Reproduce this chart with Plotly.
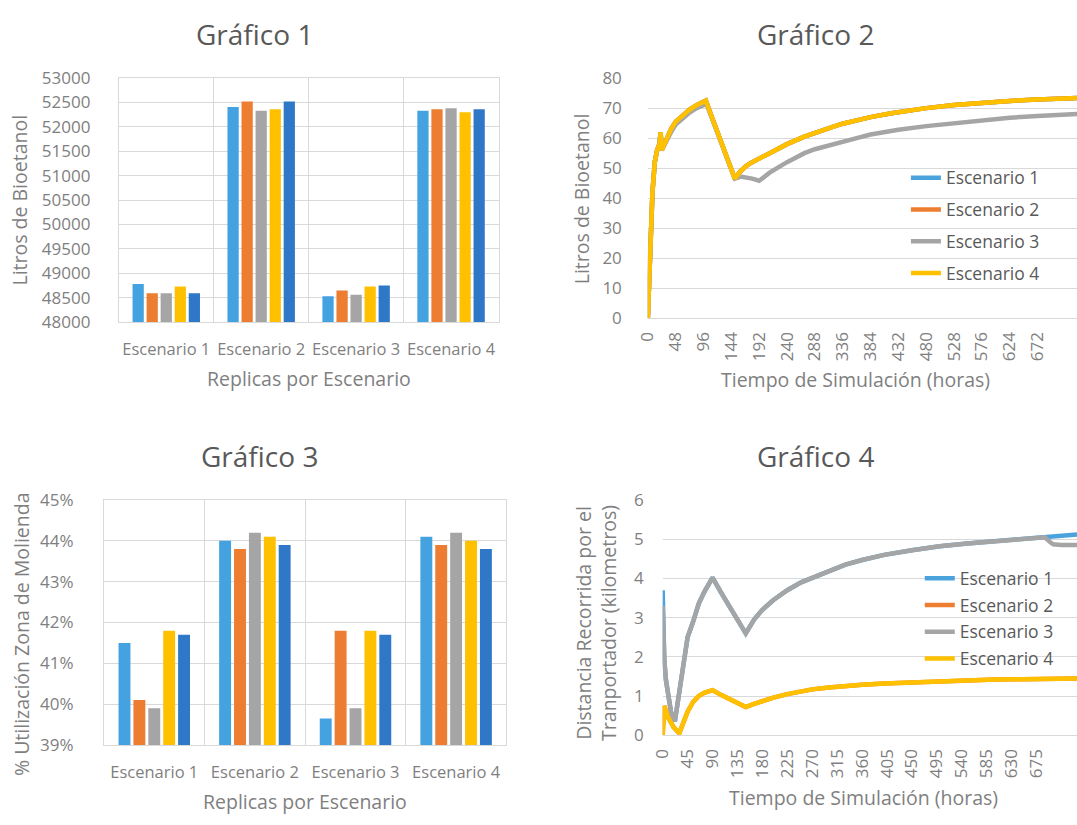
import plotly.graph_objects as go

# ---------------- data ----------------
escenarios = ["Escenario 1", "Escenario 2", "Escenario 3", "Escenario 4"]
series_names = ["Escenario 1", "Escenario 2", "Escenario 3", "Escenario 4"]

# Gráfico 1: litros de bioetanol por réplica (5 réplicas por escenario)
litros_rep1 = [48780, 52410, 48530, 52330]
litros_rep2 = [48590, 52520, 48650, 52360]
litros_rep3 = [48590, 52330, 48560, 52380]
litros_rep4 = [48730, 52360, 48730, 52300]
litros_rep5 = [48590, 52520, 48750, 52360]

# Gráfico 3: % utilización zona de molienda por réplica
util_rep1 = [41.5, 44.0, 39.65, 44.1]
util_rep2 = [40.1, 43.8, 41.8, 43.9]
util_rep3 = [39.9, 44.2, 39.9, 44.2]
util_rep4 = [41.8, 44.1, 41.8, 44.0]
util_rep5 = [41.7, 43.9, 41.7, 43.8]

# Gráfico 2: litros de bioetanol en el tiempo
horas_g2 = [0, 4, 8, 12, 16, 20, 22, 24, 28, 32, 40, 48, 60, 72, 84, 96, 100,
            110, 120, 130, 140, 150, 160, 170, 180, 192, 200, 210, 240, 270, 288,
            320, 336, 360, 384, 420, 432, 480, 528, 576, 624, 672, 720, 744]
bio_esc1 = [0, 20, 42, 52, 56, 58, 62, 56, 58, 59, 63, 65.5, 67.5, 69.5, 71, 72, 72.5,
            67.2, 62, 56.7, 51.4, 46.5, 49, 50.8, 52, 53, 54, 55, 58, 60.5, 61.8,
            63.8, 64.8, 66, 67, 68.3, 68.7, 70, 71, 71.8, 72.4, 72.9, 73.3, 73.4]
bio_esc2 = [0, 20, 42, 52, 56, 58, 62, 56, 58, 59, 63, 65.5, 67.5, 69.5, 71, 72, 72.5,
            67.2, 62, 56.7, 51.4, 46.5, 49, 50.8, 52, 53, 54, 55, 58, 60.5, 61.8,
            63.8, 64.8, 66, 67, 68.3, 68.7, 70, 71, 71.8, 72.4, 72.9, 73.3, 73.4]
bio_esc3 = [0, 20, 42, 52, 56, 58, 62, 56, 58, 59, 62, 64.5, 66.5, 68.5, 70, 71, 72,
            67, 62, 56.7, 51.4, 46.5, 47.2, 47, 46.5, 45.8, 47, 48.5, 52, 55, 56.3,
            57.8, 58.7, 60, 61.2, 62.4, 62.8, 64, 65, 66, 66.8, 67.4, 67.9, 68.1]
bio_esc4 = [0, 20, 42, 52, 56, 58, 62, 56, 58, 59, 63, 65.5, 67.5, 69.5, 71, 72, 72.5,
            67.2, 62, 56.7, 51.4, 46.5, 49, 50.8, 52, 53, 54, 55, 58, 60.5, 61.8,
            63.8, 64.8, 66, 67, 68.3, 68.7, 70, 71, 71.8, 72.4, 72.9, 73.3, 73.4]

# Gráfico 4: distancia recorrida por el transportador
horas_g4_a = [0, 1, 3, 6, 10, 15, 22, 28, 35, 45, 55, 65, 75, 90, 105, 120, 135,
              150, 165, 180, 200, 225, 250, 270, 300, 330, 360, 400, 450, 500, 550,
              600, 650, 675, 690, 700, 705, 720, 748]
dist_esc1 = [3.7, 2.6, 1.9, 1.4, 0.95, 0.6, 0.35, 0.9, 1.7, 2.5, 2.9, 3.35, 3.65, 4.02,
             3.65, 3.3, 2.95, 2.6, 2.95, 3.2, 3.45, 3.7, 3.9, 4.02, 4.2, 4.35, 4.47,
             4.6, 4.72, 4.82, 4.89, 4.95, 5.0, 5.03, 5.05, 5.06, 5.07, 5.09, 5.12]
dist_esc3 = [3.3, 2.6, 1.9, 1.4, 0.95, 0.6, 0.35, 0.9, 1.7, 2.5, 2.9, 3.35, 3.65, 4.02,
             3.65, 3.3, 2.95, 2.6, 2.95, 3.2, 3.45, 3.7, 3.9, 4.02, 4.2, 4.35, 4.47,
             4.6, 4.72, 4.82, 4.89, 4.95, 5.0, 5.03, 5.05, 4.92, 4.87, 4.85, 4.85]
horas_g4_b = [0, 3, 10, 20, 30, 38, 45, 55, 65, 75, 90, 105, 120, 135, 150, 165, 180,
              200, 225, 250, 270, 300, 330, 360, 400, 450, 500, 550, 600, 650, 700, 748]
dist_esc2 = [0.0, 0.75, 0.45, 0.2, 0.05, 0.35, 0.6, 0.85, 1.0, 1.08, 1.15, 1.03, 0.92,
             0.82, 0.72, 0.8, 0.87, 0.96, 1.05, 1.12, 1.17, 1.22, 1.26, 1.29, 1.32,
             1.35, 1.38, 1.4, 1.42, 1.43, 1.44, 1.45]
dist_esc4 = [0.0, 0.75, 0.45, 0.2, 0.05, 0.35, 0.6, 0.85, 1.0, 1.08, 1.15, 1.03, 0.92,
             0.82, 0.72, 0.8, 0.87, 0.96, 1.05, 1.12, 1.17, 1.22, 1.26, 1.29, 1.32,
             1.35, 1.38, 1.4, 1.42, 1.43, 1.44, 1.45]

ticks_g2 = list(range(0, 673, 48))
ticks_g4 = list(range(0, 676, 45))

# ---------------- styling ----------------
W, H = 1077, 825
FONT = "Open Sans, Noto Sans, sans-serif"
TICK = "#7f7f7f"
TITLE = "#595959"
GRID = "#d9d9d9"
bar_colors = ["#43a2df", "#ed7d31", "#a5a5a5", "#ffc000", "#2f78c8"]
line_colors = ["#4aa3dc", "#ed7d31", "#a5a5a5", "#ffc000"]


def px_x(a, b):
    return [a / W, b / W]


def px_y(top, bottom):
    return [1 - bottom / H, 1 - top / H]


fig = go.Figure()

# bar charts
for i, vals in enumerate([litros_rep1, litros_rep2, litros_rep3, litros_rep4, litros_rep5]):
    fig.add_trace(go.Bar(x=escenarios, y=vals, marker_color=bar_colors[i],
                         marker_line_width=0, showlegend=False,
                         xaxis="x", yaxis="y"))
for i, vals in enumerate([util_rep1, util_rep2, util_rep3, util_rep4, util_rep5]):
    fig.add_trace(go.Bar(x=escenarios, y=vals, marker_color=bar_colors[i],
                         marker_line_width=0, showlegend=False,
                         xaxis="x3", yaxis="y3"))

# line charts
for i, vals in enumerate([bio_esc1, bio_esc2, bio_esc3, bio_esc4]):
    fig.add_trace(go.Scatter(x=horas_g2, y=vals, mode="lines", name=series_names[i],
                             line=dict(color=line_colors[i], width=4.5),
                             legend="legend", legendgroup="g2_%d" % i,
                             xaxis="x2", yaxis="y2"))
g4_x = [horas_g4_a, horas_g4_b, horas_g4_a, horas_g4_b]
for i, vals in enumerate([dist_esc1, dist_esc2, dist_esc3, dist_esc4]):
    fig.add_trace(go.Scatter(x=g4_x[i], y=vals, mode="lines", name=series_names[i],
                             line=dict(color=line_colors[i], width=4.5),
                             legend="legend2", legendgroup="g4_%d" % i,
                             xaxis="x4", yaxis="y4"))

tickfont = dict(family=FONT, size=17, color=TICK)

cat_x = dict(type="category", tickson="boundaries", showgrid=True, gridcolor=GRID,
             gridwidth=1, showline=True, mirror=True, linecolor=GRID, ticks="",
             tickangle=0, tickfont=dict(tickfont, size=16.5), ticklabelstandoff=12,
             fixedrange=True)
bar_y = dict(showgrid=True, gridcolor=GRID, showline=True, mirror=True, linecolor=GRID,
             ticks="", tickfont=tickfont, zeroline=False)
line_x = dict(showgrid=False, showline=True, linecolor=GRID, ticks="", tickangle=-90,
              tickfont=tickfont, ticklabelstandoff=6, zeroline=False)
line_y = dict(showgrid=True, gridcolor=GRID, showline=False, ticks="",
              tickfont=tickfont, zeroline=False)

layout = dict(
    width=W, height=H, margin=dict(l=0, r=0, t=0, b=0),
    paper_bgcolor="white", plot_bgcolor="white",
    font=dict(family=FONT, color=TICK),
    barmode="group", bargap=0.26, bargroupgap=0.2,
    xaxis=dict(cat_x, domain=px_x(108, 492), anchor="y"),
    yaxis=dict(bar_y, domain=px_y(68, 319), anchor="x", range=[48000, 53000], dtick=500,
               tickformat="d", ticklabelstandoff=24),
    xaxis3=dict(cat_x, domain=px_x(93, 500), anchor="y3"),
    yaxis3=dict(bar_y, domain=px_y(502, 754), anchor="x3", range=[39, 45], dtick=1,
                ticksuffix="%", ticklabelstandoff=26),
    xaxis2=dict(line_x, domain=px_x(643, 1077), anchor="y2", range=[0, 740],
                tickvals=ticks_g2),
    yaxis2=dict(line_y, domain=px_y(68, 315), anchor="x2", range=[0, 80], dtick=10,
                ticklabelstandoff=25),
    xaxis4=dict(line_x, domain=px_x(658, 1077), anchor="y4", range=[0, 748],
                tickvals=ticks_g4),
    yaxis4=dict(line_y, domain=px_y(502, 744), anchor="x4", range=[0, 6], dtick=1,
                ticklabelstandoff=18),
    legend=dict(x=904 / W, xanchor="left", y=1 - 152 / H, yanchor="top",
                bgcolor="rgba(0,0,0,0)", tracegroupgap=6,
                font=dict(family=FONT, size=17.5, color=TITLE)),
    legend2=dict(x=918 / W, xanchor="left", y=1 - 564 / H, yanchor="top",
                 bgcolor="rgba(0,0,0,0)", tracegroupgap=1,
                 font=dict(family=FONT, size=17.5, color=TITLE)),
)

annotations = []


def add_text(text, x, y, size, color, angle=0):
    annotations.append(dict(text=text, x=x / W, y=1 - y / H, xref="paper", yref="paper",
                            showarrow=False, xanchor="center", yanchor="middle",
                            textangle=angle, font=dict(family=FONT, size=size, color=color)))


# chart titles
add_text("Gráfico 1", 245, 23, 28, TITLE)
add_text("Gráfico 2", 813, 23, 28, TITLE)
add_text("Gráfico 3", 250, 457, 28, TITLE)
add_text("Gráfico 4", 813, 457, 28, TITLE)
# axis titles
add_text("Replicas por Escenario", 300, 377, 19.5, TICK)
add_text("Replicas por Escenario", 296, 812, 19.5, TICK)
add_text("Tiempo de Simulación (horas)", 853, 378, 19.5, TICK)
add_text("Tiempo de Simulación (horas)", 861, 808, 19.5, TICK)
add_text("Litros de Bioetanol", 8, 193, 19.5, TICK, -90)
add_text("Litros de Bioetanol", 576, 192, 19.5, TICK, -90)
add_text("% Utilización Zona de Molienda", 9, 640, 19.5, TICK, -90)
add_text("Distancia Recorrida por el<br>Tranportador (kilometros)", 591, 628, 19.5, TICK, -90)

layout["annotations"] = annotations
fig.update_layout(layout)

fig.write_html("out.html")
